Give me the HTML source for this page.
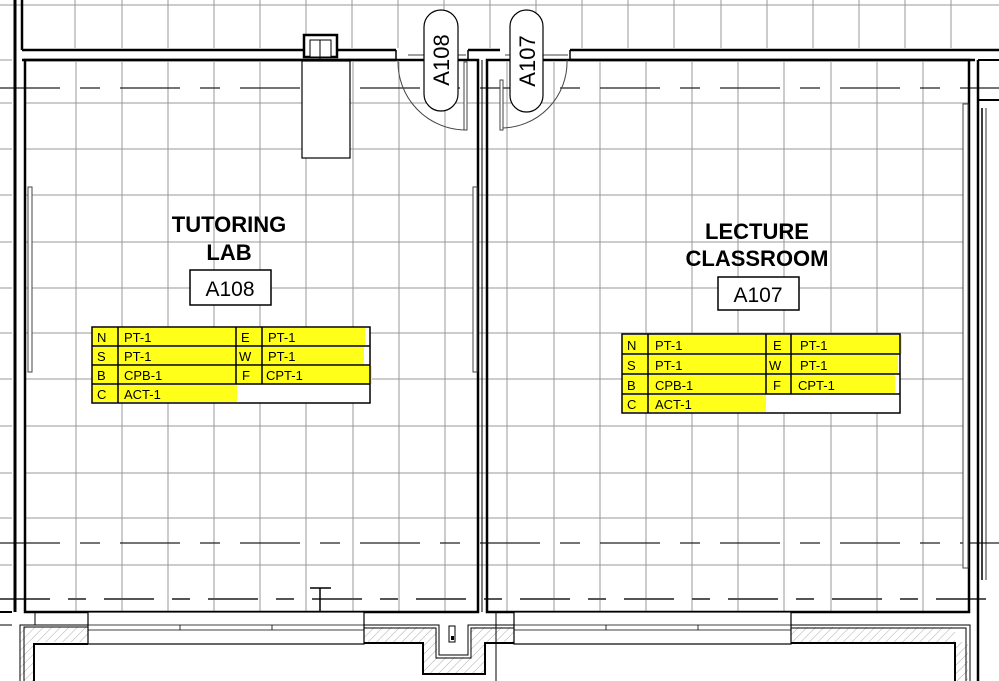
<!DOCTYPE html>
<html><head><meta charset="utf-8"><style>
html,body{margin:0;padding:0;background:#fff;}
svg{display:block;}
text{font-family:"Liberation Sans",Arial,sans-serif;}
</style></head><body>
<svg width="999" height="681" viewBox="0 0 999 681" xmlns="http://www.w3.org/2000/svg">
<defs>
<pattern id="hatch" width="6" height="6" patternUnits="userSpaceOnUse" patternTransform="rotate(45)">
<line x1="0" y1="0" x2="0" y2="6" stroke="#999" stroke-width="0.8"/>
</pattern>
</defs>
<rect width="999" height="681" fill="#fff"/>
<g stroke="#999" stroke-width="1">
<line x1="0" y1="5" x2="999" y2="5"/>
<line x1="75" y1="0" x2="75" y2="48"/><line x1="122" y1="0" x2="122" y2="48"/><line x1="168" y1="0" x2="168" y2="48"/>
<line x1="214" y1="0" x2="214" y2="48"/><line x1="260" y1="0" x2="260" y2="48"/><line x1="306" y1="0" x2="306" y2="48"/>
<line x1="352" y1="0" x2="352" y2="48"/><line x1="398" y1="0" x2="398" y2="48"/><line x1="444" y1="0" x2="444" y2="48"/>
<line x1="490" y1="0" x2="490" y2="48"/><line x1="536" y1="0" x2="536" y2="48"/>
<line x1="582" y1="0" x2="582" y2="48"/><line x1="628" y1="0" x2="628" y2="48"/><line x1="674" y1="0" x2="674" y2="48"/>
<line x1="721" y1="0" x2="721" y2="48"/><line x1="767" y1="0" x2="767" y2="48"/><line x1="813" y1="0" x2="813" y2="48"/>
<line x1="859" y1="0" x2="859" y2="48"/><line x1="905" y1="0" x2="905" y2="48"/><line x1="951" y1="0" x2="951" y2="48"/>
<line x1="0" y1="60" x2="12" y2="60"/><line x1="0" y1="103" x2="12" y2="103"/><line x1="0" y1="149" x2="12" y2="149"/>
<line x1="0" y1="195" x2="12" y2="195"/><line x1="0" y1="242" x2="12" y2="242"/><line x1="0" y1="288" x2="12" y2="288"/>
<line x1="0" y1="333" x2="12" y2="333"/><line x1="0" y1="379" x2="12" y2="379"/><line x1="0" y1="426" x2="12" y2="426"/>
<line x1="0" y1="473" x2="12" y2="473"/><line x1="0" y1="518" x2="12" y2="518"/><line x1="0" y1="565" x2="12" y2="565"/>
</g>
<g stroke="#999" stroke-width="1">
<line x1="76" y1="62" x2="76" y2="612"/><line x1="122" y1="62" x2="122" y2="612"/><line x1="168" y1="62" x2="168" y2="612"/>
<line x1="214" y1="62" x2="214" y2="612"/><line x1="260" y1="62" x2="260" y2="612"/><line x1="306" y1="62" x2="306" y2="612"/>
<line x1="353" y1="62" x2="353" y2="612"/><line x1="399" y1="62" x2="399" y2="612"/><line x1="445" y1="62" x2="445" y2="612"/>
<line x1="507" y1="62" x2="507" y2="612"/><line x1="554" y1="62" x2="554" y2="612"/><line x1="600" y1="62" x2="600" y2="612"/>
<line x1="646" y1="62" x2="646" y2="612"/><line x1="692" y1="62" x2="692" y2="612"/><line x1="738" y1="62" x2="738" y2="612"/>
<line x1="784" y1="62" x2="784" y2="612"/><line x1="831" y1="62" x2="831" y2="612"/><line x1="877" y1="62" x2="877" y2="612"/>
<line x1="923" y1="62" x2="923" y2="612"/>
<line x1="25" y1="103" x2="968" y2="103"/><line x1="25" y1="149" x2="968" y2="149"/><line x1="25" y1="195" x2="968" y2="195"/>
<line x1="25" y1="242" x2="968" y2="242"/><line x1="25" y1="288" x2="968" y2="288"/><line x1="25" y1="333" x2="968" y2="333"/>
<line x1="25" y1="379" x2="968" y2="379"/><line x1="25" y1="426" x2="968" y2="426"/><line x1="25" y1="473" x2="968" y2="473"/>
<line x1="25" y1="518" x2="968" y2="518"/><line x1="25" y1="565" x2="968" y2="565"/>
</g>
<g stroke="#222" stroke-width="1.2" stroke-dasharray="60,20,20,20">
<line x1="0" y1="88" x2="999" y2="88"/>
<line x1="0" y1="543" x2="999" y2="543"/>
</g>
<line x1="0" y1="599" x2="999" y2="599" stroke="#555" stroke-width="2" stroke-dasharray="50,18,18,18"/>
<g stroke="#000" fill="none">
<line x1="15" y1="0" x2="15" y2="612" stroke-width="3"/>
<line x1="22" y1="0" x2="22" y2="50" stroke-width="2.5"/>
<line x1="22" y1="50" x2="396" y2="50" stroke-width="2.5"/>
<line x1="22" y1="60" x2="396" y2="60" stroke-width="2.5"/>
<line x1="396" y1="50" x2="396" y2="60" stroke-width="1.5"/>
<line x1="408" y1="55" x2="466" y2="55" stroke-width="0.8"/>
<line x1="468" y1="50" x2="500" y2="50" stroke-width="2.5"/>
<line x1="468" y1="50" x2="468" y2="60" stroke-width="1.5"/>
<line x1="570" y1="50" x2="999" y2="50" stroke-width="2.5"/>
<line x1="570" y1="60" x2="975" y2="60" stroke-width="2.5"/>
<line x1="570" y1="50" x2="570" y2="60" stroke-width="1.5"/>
<line x1="505" y1="55" x2="568" y2="55" stroke-width="0.8"/>
<rect x="25" y="60" width="453" height="552" stroke-width="2.5"/>
<rect x="487" y="60" width="482" height="552" stroke-width="2.5"/>
<line x1="482" y1="60" x2="482" y2="612" stroke-width="1"/>
<line x1="978" y1="60" x2="978" y2="681" stroke-width="2.5"/>
<line x1="978" y1="60" x2="999" y2="60" stroke-width="2"/>
<line x1="978" y1="100" x2="999" y2="100" stroke-width="2"/>
<line x1="982" y1="108" x2="982" y2="580" stroke-width="1.5"/>
<line x1="986" y1="108" x2="986" y2="580" stroke-width="0.8"/>
</g>
<g fill="#fff" stroke="#444" stroke-width="1">
<rect x="28" y="187" width="4" height="185"/>
<rect x="473" y="187" width="4" height="185"/>
<rect x="963" y="104" width="5" height="464"/>
</g>
<g fill="#fff" stroke="#000">
<rect x="304" y="35" width="33" height="22" stroke-width="2.5"/>
<rect x="310" y="40" width="21" height="17" stroke-width="1"/>
<line x1="320" y1="40" x2="320" y2="68" stroke-width="1"/>
<rect x="302" y="61" width="48" height="97" stroke-width="1.2"/>
</g>
<g fill="none" stroke="#444" stroke-width="1">
<path d="M398 60 A68 68 0 0 0 466 130"/>
<rect x="464" y="62" width="3" height="68" fill="#fff"/>
<path d="M567 60 A66 66 0 0 1 501 128"/>
<rect x="500" y="80" width="3" height="50" fill="#fff"/>
</g>
<g fill="#fff" stroke="#000" stroke-width="1.2">
<rect x="424" y="10" width="34" height="101" rx="17"/>
<rect x="510" y="10" width="33" height="102" rx="16.5"/>
</g>
<text transform="translate(449,60) rotate(-90)" text-anchor="middle" font-size="22">A108</text>
<text transform="translate(535,61) rotate(-90)" text-anchor="middle" font-size="22">A107</text>
<g font-weight="bold" font-size="22" text-anchor="middle" fill="#000">
<text x="229" y="232">TUTORING</text>
<text x="229" y="260">LAB</text>
<text x="757" y="239">LECTURE</text>
<text x="757" y="266">CLASSROOM</text>
</g>
<rect x="190" y="270" width="81" height="35" fill="#fff" stroke="#000" stroke-width="1.5"/>
<text x="230" y="296" font-size="21" text-anchor="middle">A108</text>
<rect x="718" y="277" width="81" height="33" fill="#fff" stroke="#000" stroke-width="1.5"/>
<text x="758" y="302" font-size="21" text-anchor="middle">A107</text>
<g>
<rect x="92" y="327" width="278" height="76" fill="#fff"/>
<g fill="#ffff1a">
<rect x="92" y="328" width="273" height="18"/>
<rect x="92" y="347" width="272" height="18"/>
<rect x="92" y="366" width="280" height="18"/>
<rect x="92" y="385" width="145" height="17"/>
</g>
<g stroke="#000" fill="none" stroke-width="1.5">
<rect x="92" y="327" width="278" height="76"/>
<line x1="92" y1="346" x2="370" y2="346"/><line x1="92" y1="365" x2="370" y2="365"/><line x1="92" y1="384" x2="370" y2="384"/>
<line x1="118" y1="327" x2="118" y2="403"/><line x1="236" y1="327" x2="236" y2="384"/><line x1="262" y1="327" x2="262" y2="384"/>
</g>
<g font-size="13" fill="#000">
<text x="97" y="342">N</text><text x="124" y="342">PT-1</text><text x="241" y="342">E</text><text x="268" y="342">PT-1</text>
<text x="97" y="361">S</text><text x="124" y="361">PT-1</text><text x="239" y="361">W</text><text x="268" y="361">PT-1</text>
<text x="97" y="380">B</text><text x="124" y="380">CPB-1</text><text x="242" y="380">F</text><text x="266" y="380">CPT-1</text>
<text x="97" y="399">C</text><text x="124" y="399">ACT-1</text>
</g>
</g>
<g>
<rect x="622" y="334" width="278" height="79" fill="#fff"/>
<g fill="#ffff1a">
<rect x="622" y="335" width="280" height="19"/>
<rect x="622" y="355" width="276" height="19"/>
<rect x="622" y="375" width="273" height="19"/>
<rect x="622" y="395" width="144" height="17"/>
</g>
<g stroke="#000" fill="none" stroke-width="1.5">
<rect x="622" y="334" width="278" height="79"/>
<line x1="622" y1="354" x2="900" y2="354"/><line x1="622" y1="374" x2="900" y2="374"/><line x1="622" y1="394" x2="900" y2="394"/>
<line x1="648" y1="334" x2="648" y2="413"/><line x1="766" y1="334" x2="766" y2="394"/><line x1="791" y1="334" x2="791" y2="394"/>
</g>
<g font-size="13" fill="#000">
<text x="627" y="350">N</text><text x="655" y="350">PT-1</text><text x="773" y="350">E</text><text x="800" y="350">PT-1</text>
<text x="627" y="370">S</text><text x="655" y="370">PT-1</text><text x="769" y="370">W</text><text x="800" y="370">PT-1</text>
<text x="627" y="390">B</text><text x="655" y="390">CPB-1</text><text x="773" y="390">F</text><text x="798" y="390">CPT-1</text>
<text x="627" y="409">C</text><text x="655" y="409">ACT-1</text>
</g>
</g>
<g stroke="#000" stroke-width="1.5">
<line x1="320" y1="588" x2="320" y2="612"/><line x1="310" y1="588" x2="331" y2="588"/>
</g>
<g>
<path d="M34 627 L88 627 L88 642 L34 642 Z" fill="url(#hatch)"/>
<path d="M20 627 L34 627 L34 681 L20 681 Z" fill="url(#hatch)"/>
<path d="M364 627 L437 627 L437 657 L470 657 L470 627 L514 627 L514 642 L485 642 L485 673 L423 673 L423 642 L364 642 Z" fill="url(#hatch)"/>
<path d="M791 627 L955 627 L955 681 L968 681 L968 642 L791 642 Z" fill="url(#hatch)"/>
</g>
<g stroke="#000" fill="none">
<polyline points="88,625 20,625 20,681" stroke-width="1"/>
<polyline points="88,627 24,627 24,681" stroke-width="1"/>
<polyline points="88,644 34,644 34,681" stroke-width="2"/>
<polyline points="0,612 12,612" stroke-width="2"/>
<polyline points="0,625 12,625" stroke-width="1"/>
<polyline points="364,625 439,625 439,655 468,655 468,625 514,625" stroke-width="1"/>
<polyline points="364,628 436,628 436,658 471,658 471,628 514,628" stroke-width="1"/>
<polyline points="364,643 423,643 423,674 485,674 485,643 514,643" stroke-width="2"/>
<polyline points="791,625 970,625 970,681" stroke-width="1"/>
<polyline points="791,628 966,628 966,681" stroke-width="1"/>
<polyline points="791,643 955,643 955,681" stroke-width="2"/>
<line x1="496" y1="612" x2="496" y2="681" stroke-width="1"/>
<line x1="35" y1="612" x2="35" y2="625" stroke-width="1"/>
</g>
<g fill="#fff" stroke="#000" stroke-width="1.2">
<rect x="88" y="612" width="276" height="32"/>
<rect x="514" y="612" width="277" height="32"/>
</g>
<g stroke="#000" stroke-width="0.8" fill="none">
<line x1="88" y1="625" x2="364" y2="625"/><line x1="88" y1="630" x2="364" y2="630"/>
<line x1="180" y1="625" x2="180" y2="630"/><line x1="272" y1="625" x2="272" y2="630"/>
<line x1="514" y1="625" x2="791" y2="625"/><line x1="514" y1="630" x2="791" y2="630"/>
<line x1="606" y1="625" x2="606" y2="630"/><line x1="698" y1="625" x2="698" y2="630"/>
</g>
<rect x="449" y="626" width="6" height="16" fill="#fff" stroke="#000" stroke-width="1"/>
<rect x="451" y="636" width="3" height="4" fill="#000"/>
</svg>
</body></html>
